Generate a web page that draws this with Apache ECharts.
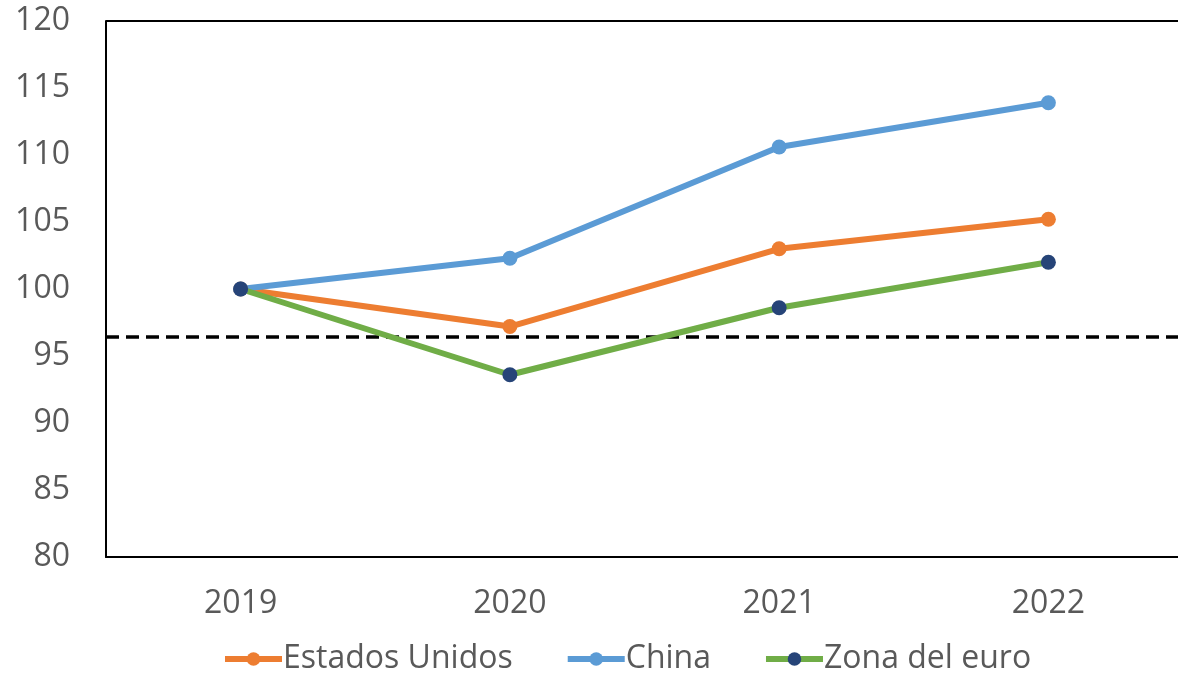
<!DOCTYPE html>
<html>
<head>
<meta charset="utf-8">
<script src="https://cdn.jsdelivr.net/npm/echarts@6/dist/echarts.min.js"></script>
<style>
  html, body { margin: 0; padding: 0; background: #fff; }
  #chart { width: 1178px; height: 677px; }
</style>
</head>
<body>
<div id="chart"></div>
<script>
  var years = ['2019', '2020', '2021', '2022'];
  var estadosUnidos = [100, 97.2, 103.0, 105.2];
  var china = [100, 102.3, 110.6, 113.9];
  var zonaEuro = [100, 93.6, 98.6, 102.0];
  var refLevel = 96.4;
  var yMax = 120;

  var font = '"Open Sans", sans-serif';
  var grey = '#595959';

  var chart = echarts.init(document.getElementById('chart'));

  function lineSeries (name, data, lineColor, dotColor) {
    return {
      name: name,
      type: 'line',
      data: data,
      symbol: 'circle',
      symbolSize: 15,
      lineStyle: { color: lineColor, width: 6 },
      itemStyle: { color: dotColor },
      z: 3
    };
  }

  var series = [
    lineSeries('Estados Unidos', estadosUnidos, '#ED7D31', '#ED7D31'),
    lineSeries('China', china, '#5B9BD5', '#5B9BD5'),
    lineSeries('Zona del euro', zonaEuro, '#70AD47', '#264478')
  ];
  // linea de referencia punteada + borde superior del area
  series[0].markLine = {
    silent: true,
    symbol: ['none', 'none'],
    label: { show: false },
    data: [
      { yAxis: refLevel, lineStyle: { color: '#000', type: [13, 7], width: 3.5 } },
      { yAxis: yMax, lineStyle: { color: '#000', type: 'solid', width: 2 } }
    ],
    z: 2
  };

  var axisLineBlack = { show: true, lineStyle: { color: '#000', width: 2 } };

  chart.setOption({
    animation: false,
    textStyle: { fontFamily: font },
    grid: {
      left: 106, top: 21, width: 1077, height: 536,
      outerBoundsMode: 'none'
    },
    legend: {
      bottom: -3,
      left: 217,
      itemWidth: 57,
      itemHeight: 17,
      itemGap: 52,
      lineStyle: { width: 6 },
      textStyle: { fontFamily: font, fontSize: 32, color: grey, padding: [0, 0, 0, -4] },
      data: ['Estados Unidos', 'China', 'Zona del euro']
    },
    xAxis: {
      type: 'category',
      data: years,
      boundaryGap: true,
      axisLine: axisLineBlack,
      axisTick: { show: false },
      axisLabel: { color: grey, fontSize: 32, fontFamily: font, margin: 31 }
    },
    yAxis: {
      type: 'value',
      min: 80,
      max: yMax,
      interval: 5,
      axisLine: axisLineBlack,
      axisTick: { show: false },
      splitLine: { show: false },
      axisLabel: { color: grey, fontSize: 32, fontFamily: font, margin: 36 }
    },
    series: series
  });
</script>
</body>
</html>
